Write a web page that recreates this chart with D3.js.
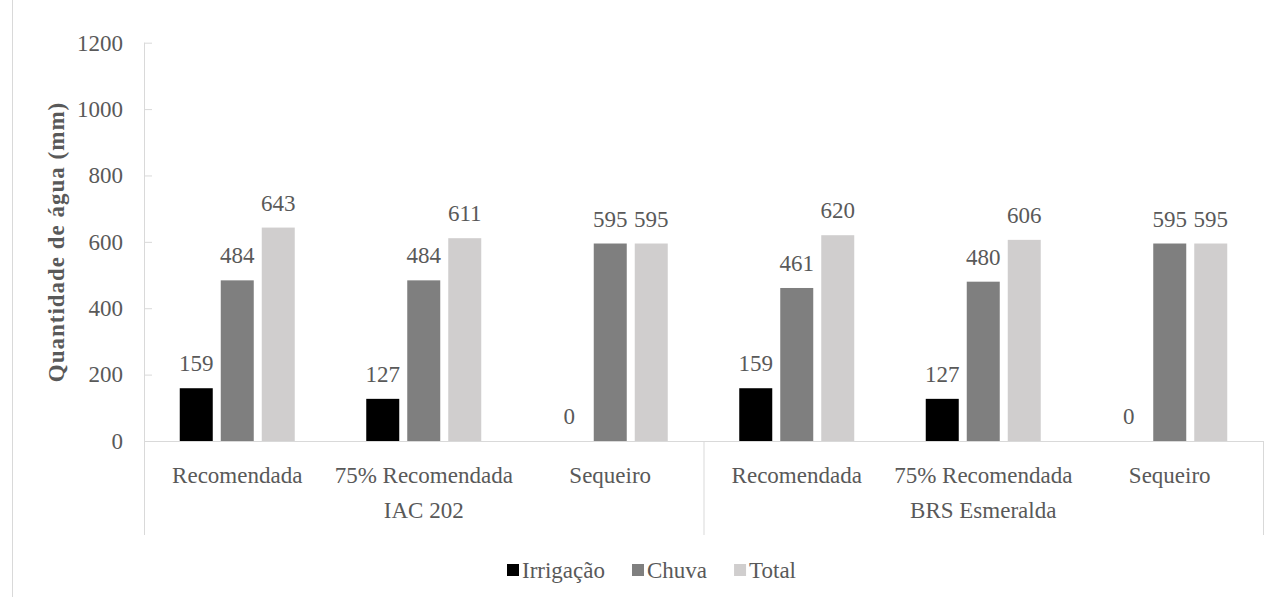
<!DOCTYPE html>
<html lang="pt">
<head>
    <meta charset="UTF-8">
    <title>Quantidade de água</title>
    <script src="https://d3js.org/d3.v7.min.js"></script>
    <style>
        body { margin: 0; background: #fff; }
        svg text { font-family: 'Liberation Serif', 'Times New Roman', Tinos, 'DejaVu Serif', serif; fill: #595959; }
        .grid-line { stroke: #d9d9d9; stroke-width: 1px; }
    </style>
</head>
<body>
    <svg width="1275" height="597"></svg>
    <script>
        // data
        const groups = ["IAC 202", "BRS Esmeralda"];
        const treatments = ["Recomendada", "75% Recomendada", "Sequeiro"];
        const series = ["Irrigação", "Chuva", "Total"];
        const irrigacao = [159, 127, 0, 159, 127, 0];
        const chuva = [484, 484, 595, 461, 480, 595];
        const total = [643, 611, 595, 620, 606, 595];
        const yTicks = [0, 200, 400, 600, 800, 1000, 1200];
        const colors = ["#000000", "#7f7f7f", "#d0cece"];

        const serif = "'Liberation Serif', 'Times New Roman', Tinos, 'DejaVu Serif', serif";
        const svg = d3.select("svg").attr("font-family", serif);
        const plotLeft = 144, plotRight = 1263, plotTop = 42.7, plotBottom = 441;

        // build rows: one per group/treatment
        const rows = [];
        groups.forEach((g, gi) => {
            treatments.forEach((t, ti) => {
                const i = gi * treatments.length + ti;
                rows.push({ key: g + "|" + t, group: g, label: t,
                    values: [irrigacao[i], chuva[i], total[i]] });
            });
        });

        const x0 = d3.scaleBand().domain(rows.map(d => d.key)).range([plotLeft, plotRight]).padding(0);
        const x1 = d3.scaleBand().domain(series).range([0, x0.bandwidth()])
            .paddingInner(0.195).paddingOuter(0.872);
        const y = d3.scaleLinear().domain([0, 1200]).range([plotBottom, plotTop]);

        // outer chart border (left edge visible)
        svg.append("line").attr("class", "grid-line")
            .attr("x1", 12.5).attr("x2", 12.5).attr("y1", 0).attr("y2", 597);

        // y axis
        const yAxis = svg.append("g").attr("transform", `translate(${plotLeft},0)`)
            .call(d3.axisLeft(y).tickValues(yTicks).tickFormat(d3.format("d")).tickSize(0).tickPadding(21));
        yAxis.attr("font-family", serif);
        yAxis.select(".domain").remove();
        yAxis.selectAll("text").attr("font-size", 23).style("font-family", serif).attr("fill", "#595959");
        yAxis.selectAll(".tick").append("line").attr("class", "grid-line")
            .attr("x1", 0).attr("x2", 8).attr("y1", 0).attr("y2", 0);
        svg.append("line").attr("class", "grid-line")
            .attr("x1", plotLeft + 0.5).attr("x2", plotLeft + 0.5).attr("y1", y(1200)).attr("y2", 535);

        // baseline
        svg.append("line").attr("class", "grid-line")
            .attr("x1", plotLeft).attr("x2", plotRight).attr("y1", plotBottom + 0.5).attr("y2", plotBottom + 0.5);

        // group separators and group labels
        groups.forEach((g, gi) => {
            const lastKey = rows[(gi + 1) * treatments.length - 1].key;
            const xe = x0(lastKey) + x0.bandwidth();
            svg.append("line").attr("class", "grid-line")
                .attr("x1", xe + 0.5).attr("x2", xe + 0.5).attr("y1", plotBottom).attr("y2", 535);
            const xs = x0(rows[gi * treatments.length].key);
            svg.append("text").attr("x", (xs + xe) / 2).attr("y", 518)
                .attr("text-anchor", "middle").attr("font-size", 23).text(g);
        });

        // bars
        const cat = svg.append("g").selectAll("g").data(rows).enter().append("g")
            .attr("transform", d => `translate(${x0(d.key)},0)`);

        const cells = d => d.values.map((v, i) => ({ s: series[i], v: v, i: i }));

        cat.selectAll("rect").data(cells)
            .enter().append("rect")
            .attr("x", d => x1(d.s))
            .attr("width", x1.bandwidth())
            .attr("y", d => y(d.v))
            .attr("height", d => plotBottom - y(d.v))
            .attr("fill", d => colors[d.i]);

        cat.selectAll("text.val").data(cells)
            .enter().append("text").attr("class", "val")
            .attr("x", d => x1(d.s) + x1.bandwidth() / 2)
            .attr("y", d => y(d.v) - 17)
            .attr("text-anchor", "middle").attr("font-size", 23)
            .text(d => d.v);

        cat.append("text")
            .attr("x", x0.bandwidth() / 2).attr("y", 483)
            .attr("text-anchor", "middle").attr("font-size", 23)
            .text(d => d.label);

        // y title
        svg.append("text")
            .attr("transform", "translate(64,242) rotate(-90)")
            .attr("text-anchor", "middle").attr("font-size", 23).attr("font-weight", "bold")
            .attr("letter-spacing", 1)
            .text("Quantidade de água (mm)");

        // legend
        const legend = svg.append("g");
        let lx = 507;
        series.forEach((s, i) => {
            const item = legend.append("g").attr("transform", `translate(${lx},0)`);
            item.append("rect").attr("x", 0).attr("y", 564).attr("width", 12).attr("height", 12).attr("fill", colors[i]);
            const t = item.append("text").attr("x", 15).attr("y", 578).attr("font-size", 23).text(s);
            lx += 15 + t.node().getComputedTextLength() + 27;
        });
    </script>
</body>
</html>
